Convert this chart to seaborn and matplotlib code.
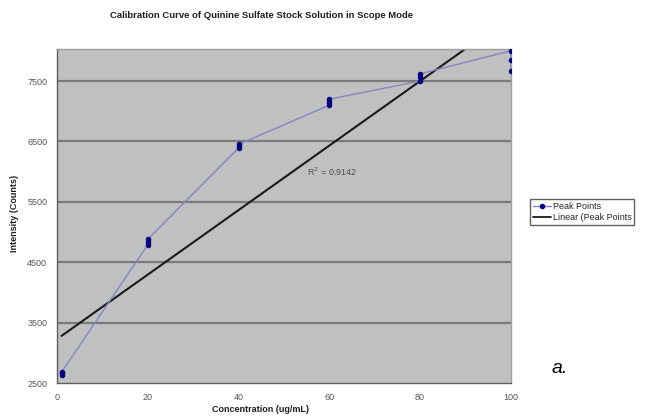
import numpy as np
import pandas as pd
import matplotlib
matplotlib.use('Agg')
import matplotlib.pyplot as plt
import seaborn as sns
from matplotlib.lines import Line2D

# data
conc = [1, 1, 1, 20, 20, 20, 40, 40, 40, 60, 60, 60, 80, 80, 80, 100, 100, 100]
intensity = [2640, 2660, 2680, 4790, 4830, 4880, 6390, 6420, 6450,
             7100, 7150, 7200, 7500, 7560, 7620, 8000, 7850, 7670]
# excel linear trendline
trend_slope = 53.4
trend_intercept = 3227
r_squared = 0.9142
x_ticks = [0, 20, 40, 60, 80, 100]
y_ticks = [2500, 3500, 4500, 5500, 6500, 7500]

df = pd.DataFrame({'conc': conc, 'intensity': intensity})

sns.set_style('white')
plt.rcParams['font.family'] = ['Liberation Sans', 'DejaVu Sans']

fig = plt.figure(figsize=(6.45, 4.19), dpi=100)
ax = fig.add_axes([0.0884, 0.0859, 0.7036, 0.7971])
ax.set_facecolor('#c0c0c0')

# gridlines
for yv in y_ticks[1:]:
    ax.axhline(yv, color='#7a7a7a', lw=1.6, zorder=1)

sns.lineplot(data=df, x='conc', y='intensity', estimator=None, sort=False,
             color='#8484c8', lw=1.0, marker='o', markersize=3.2,
             markerfacecolor='#000080', markeredgecolor='#000080',
             ax=ax, zorder=3, legend=False)

tx = np.array([min(conc), max(conc)])
ax.plot(tx, trend_slope * tx + trend_intercept, color='#1a1a1a', lw=1.5, zorder=2)

ax.text(55, 5930, 'R$^2$ = %.4f' % r_squared, fontsize=6.5, color='#505050')

ax.set_xlim(0, 100)
ax.set_ylim(2500, 8030)
ax.set_xticks(x_ticks)
ax.set_yticks(y_ticks)
ax.tick_params(axis='both', labelsize=6.5, labelcolor='#555555', length=3,
               direction='out', color='#555555', width=0.8)
ax.tick_params(axis='x', pad=4)
ax.tick_params(axis='y', pad=4)
for s in ['left', 'bottom']:
    ax.spines[s].set_color('#606060')
    ax.spines[s].set_linewidth(1.0)
for s in ['top', 'right']:
    ax.spines[s].set_color('#a0a0a0')
    ax.spines[s].set_linewidth(1.0)

ax.set_xlabel('')
ax.set_ylabel('')
fig.text(0.404, 0.022, 'Concentration (ug/mL)', fontsize=6.5, fontweight='bold',
         color='#202020', ha='center', va='center')
fig.text(0.022, 0.49, 'Intensity (Counts)', fontsize=6.5, fontweight='bold',
         color='#202020', ha='center', va='center', rotation=90)
fig.text(0.405, 0.962, 'Calibration Curve of Quinine Sulfate Stock Solution in Scope Mode',
         fontsize=6.8, fontweight='bold', color='#202020', ha='center', va='center')

handles = [Line2D([], [], color='#8484c8', lw=1.0, marker='o', markersize=3,
                  markerfacecolor='#000080', markeredgecolor='#000080'),
           Line2D([], [], color='#1a1a1a', lw=1.3)]
fig.legend(handles, ['Peak Points', 'Linear (Peak Points'], loc='upper left',
           bbox_to_anchor=(0.822, 0.525), fontsize=6.5, frameon=True, fancybox=False,
           edgecolor='#606060', framealpha=1, handlelength=2.0, handletextpad=0.2,
           borderpad=0.3, labelspacing=0.3, borderaxespad=0)

fig.text(0.855, 0.12, 'a.', fontsize=14, fontstyle='italic', color='black',
         ha='left', va='center')

fig.savefig('out.png', dpi=100)
